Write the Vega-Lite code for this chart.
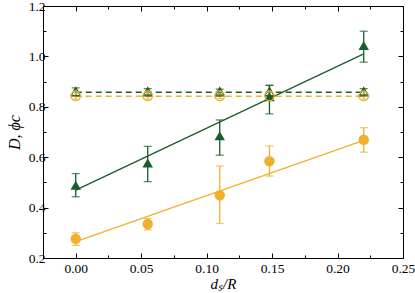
{
  "$schema": "https://vega.github.io/schema/vega-lite/v6.json",
  "width": 360,
  "height": 252,
  "autosize": "none",
  "padding": {"left": 43, "top": 6, "right": 12, "bottom": 35},
  "background": "white",
  "config": {
    "view": {"stroke": "black", "strokeWidth": 1},
    "font": "Liberation Serif",
    "axis": {
      "domain": false,
      "grid": false,
      "tickColor": "black",
      "tickWidth": 1,
      "labelColor": "black",
      "titleColor": "black"
    }
  },
  "datasets": {
    "pts": [
      {"x": 0.0, "y": 0.489, "lo": 0.443, "hi": 0.535, "series": "D", "kind": "filled"},
      {"x": 0.055, "y": 0.577, "lo": 0.503, "hi": 0.643, "series": "D", "kind": "filled"},
      {"x": 0.11, "y": 0.685, "lo": 0.608, "hi": 0.748, "series": "D", "kind": "filled"},
      {"x": 0.148, "y": 0.84, "lo": 0.772, "hi": 0.885, "series": "D", "kind": "filled"},
      {"x": 0.22, "y": 1.043, "lo": 0.977, "hi": 1.1, "series": "D", "kind": "filled"},
      {"x": 0.0, "y": 0.276, "lo": 0.25, "hi": 0.3, "series": "phi", "kind": "filled"},
      {"x": 0.055, "y": 0.335, "lo": 0.312, "hi": 0.357, "series": "phi", "kind": "filled"},
      {"x": 0.11, "y": 0.449, "lo": 0.337, "hi": 0.565, "series": "phi", "kind": "filled"},
      {"x": 0.148, "y": 0.584, "lo": 0.525, "hi": 0.645, "series": "phi", "kind": "filled"},
      {"x": 0.22, "y": 0.669, "lo": 0.62, "hi": 0.717, "series": "phi", "kind": "filled"},
      {"x": 0.0, "y": 0.86, "lo": 0.845, "hi": 0.875, "series": "D", "kind": "open"},
      {"x": 0.055, "y": 0.86, "lo": 0.848, "hi": 0.872, "series": "D", "kind": "open"},
      {"x": 0.11, "y": 0.86, "lo": 0.85, "hi": 0.87, "series": "D", "kind": "open"},
      {"x": 0.148, "y": 0.86, "lo": 0.845, "hi": 0.885, "series": "D", "kind": "open"},
      {"x": 0.22, "y": 0.86, "lo": 0.848, "hi": 0.872, "series": "D", "kind": "open"},
      {"x": 0.0, "y": 0.843, "lo": 0.83, "hi": 0.856, "series": "phi", "kind": "open"},
      {"x": 0.055, "y": 0.843, "lo": 0.83, "hi": 0.856, "series": "phi", "kind": "open"},
      {"x": 0.11, "y": 0.843, "lo": 0.832, "hi": 0.854, "series": "phi", "kind": "open"},
      {"x": 0.148, "y": 0.843, "lo": 0.83, "hi": 0.856, "series": "phi", "kind": "open"},
      {"x": 0.22, "y": 0.843, "lo": 0.83, "hi": 0.856, "series": "phi", "kind": "open"}
    ],
    "lines": [
      {"x": 0.0, "y": 0.469, "series": "D", "kind": "fit"},
      {"x": 0.22, "y": 1.01, "series": "D", "kind": "fit"},
      {"x": 0.0, "y": 0.265, "series": "phi", "kind": "fit"},
      {"x": 0.22, "y": 0.667, "series": "phi", "kind": "fit"},
      {"x": 0.0, "y": 0.858, "series": "D", "kind": "dash"},
      {"x": 0.22, "y": 0.858, "series": "D", "kind": "dash"},
      {"x": 0.0, "y": 0.842, "series": "phi", "kind": "dash"},
      {"x": 0.22, "y": 0.842, "series": "phi", "kind": "dash"}
    ]
  },
  "resolve": {"axis": {"x": "independent", "y": "independent"}},
  "layer": [
    {
      "data": {"name": "lines"},
      "transform": [{"filter": "datum.kind == 'fit'"}],
      "mark": {"type": "line", "strokeWidth": 1.3},
      "encoding": {
        "x": {"field": "x", "type": "quantitative",
          "scale": {"domain": [-0.025, 0.25], "nice": false, "zero": false},
          "axis": {"orient": "bottom", "title": "dₛ/R", "values": [0, 0.025, 0.05, 0.075, 0.1, 0.125, 0.15, 0.175, 0.2, 0.225, 0.25],
            "format": ".2f", "labelExpr": "round(datum.value*40) % 2 == 0 ? datum.label : ''",
            "tickSize": {"condition": {"test": "round(datum.value*40) % 2 == 0", "value": -5}, "value": -3},
            "labelFont": "Liberation Serif", "labelFontSize": 13.5,
            "titleFont": "Liberation Serif", "titleFontSize": 15, "titleFontStyle": "italic", "titleFontWeight": "normal",
            "labelPadding": 8, "titlePadding": 0, "labelFlush": false, "labelOverlap": false}},
        "y": {"field": "y", "type": "quantitative",
          "scale": {"domain": [0.2, 1.2], "nice": false, "zero": false},
          "axis": {"orient": "left", "title": "D, ϕc", "values": [0.2, 0.3, 0.4, 0.5, 0.6, 0.7, 0.8, 0.9, 1.0, 1.1, 1.2],
            "format": ".1f", "labelExpr": "round(datum.value*10) % 2 == 0 ? datum.label : ''",
            "tickSize": {"condition": {"test": "round(datum.value*10) % 2 == 0", "value": -5}, "value": -3},
            "labelFont": "Liberation Serif", "labelFontSize": 13.5,
            "titleFont": "Liberation Serif", "titleFontSize": 16, "titleFontStyle": "italic", "titleFontWeight": "normal",
            "labelPadding": 3, "titlePadding": 6, "labelFlush": false, "labelOverlap": false, "labelBound": false}},
        "detail": {"field": "series"},
        "color": {"field": "series", "type": "nominal", "scale": {"domain": ["D", "phi"], "range": ["#1a5c2c", "#f0b12f"]}, "legend": null}
      }
    },
    {
      "data": {"name": "lines"},
      "transform": [{"filter": "datum.kind == 'dash'"}],
      "mark": {"type": "line", "strokeWidth": 1.5, "strokeDash": [6, 4]},
      "encoding": {
        "x": {"field": "x", "type": "quantitative",
          "axis": {"orient": "top", "title": null, "labels": false, "values": [0, 0.025, 0.05, 0.075, 0.1, 0.125, 0.15, 0.175, 0.2, 0.225, 0.25],
            "tickSize": {"condition": {"test": "round(datum.value*40) % 2 == 0", "value": -5}, "value": -3}}},
        "y": {"field": "y", "type": "quantitative",
          "axis": {"orient": "right", "title": null, "labels": false, "values": [0.2, 0.3, 0.4, 0.5, 0.6, 0.7, 0.8, 0.9, 1.0, 1.1, 1.2],
            "tickSize": {"condition": {"test": "round(datum.value*10) % 2 == 0", "value": -5}, "value": -3}}},
        "detail": {"field": "series"},
        "color": {"field": "series", "type": "nominal", "legend": null}
      }
    },
    {
      "data": {"name": "pts"},
      "mark": {"type": "rule", "strokeWidth": 1.3},
      "encoding": {
        "x": {"field": "x", "type": "quantitative", "axis": null},
        "y": {"field": "lo", "type": "quantitative", "axis": null},
        "y2": {"field": "hi"},
        "color": {"field": "series", "type": "nominal", "legend": null}
      }
    },
    {
      "data": {"name": "pts"},
      "mark": {"type": "tick", "orient": "horizontal", "size": 8, "thickness": 1.3},
      "encoding": {
        "x": {"field": "x", "type": "quantitative", "axis": null},
        "y": {"field": "lo", "type": "quantitative", "axis": null},
        "color": {"field": "series", "type": "nominal", "legend": null}
      }
    },
    {
      "data": {"name": "pts"},
      "mark": {"type": "tick", "orient": "horizontal", "size": 8, "thickness": 1.3},
      "encoding": {
        "x": {"field": "x", "type": "quantitative", "axis": null},
        "y": {"field": "hi", "type": "quantitative", "axis": null},
        "color": {"field": "series", "type": "nominal", "legend": null}
      }
    },
    {
      "data": {"name": "pts"},
      "transform": [{"filter": "datum.kind == 'filled'"}],
      "mark": {"type": "point", "filled": true, "opacity": 1, "size": 110},
      "encoding": {
        "x": {"field": "x", "type": "quantitative", "axis": null},
        "y": {"field": "y", "type": "quantitative", "axis": null},
        "shape": {"field": "series", "type": "nominal", "scale": {"domain": ["D", "phi"], "range": ["triangle-up", "circle"]}, "legend": null},
        "color": {"field": "series", "type": "nominal", "legend": null}
      }
    },
    {
      "data": {"name": "pts"},
      "transform": [{"filter": "datum.kind == 'open'"}],
      "mark": {"type": "point", "filled": false, "opacity": 1, "size": 90, "strokeWidth": 1.2},
      "encoding": {
        "x": {"field": "x", "type": "quantitative", "axis": null},
        "y": {"field": "y", "type": "quantitative", "axis": null},
        "shape": {"field": "series", "type": "nominal", "legend": null},
        "color": {"field": "series", "type": "nominal", "legend": null}
      }
    }
  ]
}
